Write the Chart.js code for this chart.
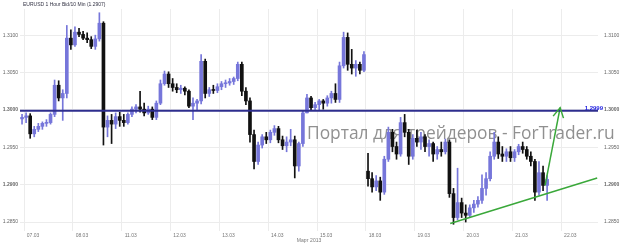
<!DOCTYPE html>
<html>
<head>
<meta charset="utf-8">
<script src="https://cdn.jsdelivr.net/npm/chart.js@4.4.1/dist/chart.umd.min.js"></script>
<style>
  html, body { margin: 0; padding: 0; background: #fff; }
  #wrap { width: 623px; height: 244px; }
</style>
</head>
<body>
<div id="wrap"><canvas id="chart"></canvas></div>
<script>
// EURUSD, 2-hour candles
const days = ['06.03', '07.03', '08.03', '11.03', '12.03', '13.03', '14.03', '15.03', '18.03', '19.03', '20.03', '21.03', '22.03'];
const hours = ['00', '02', '04', '06', '08', '10', '12', '14', '16', '18', '20', '22'];
const firstHour = '22';   // first slot on 06.03
const lastHour = '16';    // last slot on 22.03 (empty space on the right)

const opens = [
  1.2988, 1.2990, 1.2992, 1.2968, 1.2974, 1.2978, 1.2982, 1.2983, 1.2994, 1.3033,
  1.3016, 1.3022, 1.3096, 1.3087, 1.3104, 1.3101, 1.3096, 1.3094, 1.3085, 1.3095,
  1.3116, 1.2977, 1.2986, 1.2981, 1.2991, 1.2986, 1.2983, 1.2994, 1.3001, 1.3004,
  1.3001, 1.2996, 1.3001, 1.2990, 1.3009, 1.3035, 1.3048, 1.3035, 1.3030, 1.3027,
  1.3029, 1.3025, 1.3005, 1.3009, 1.3012, 1.3065, 1.3022, 1.3027, 1.3026, 1.3031,
  1.3035, 1.3036, 1.3038, 1.3042, 1.3061, 1.3025, 1.3012, 1.2967, 1.2931, 1.2953,
  1.2964, 1.2960, 1.2970, 1.2975, 1.2960, 1.2952, 1.2957, 1.2960, 1.2925, 1.2955,
  1.2996, 1.3016, 1.3003, 1.3007, 1.3012, 1.3009, 1.3016, 1.3022, 1.3014, 1.3059,
  1.3097, 1.3061, 1.3056, 1.3061, 1.3053, 1.2918, 1.2908, 1.2897, 1.2905, 1.2890,
  1.2934, 1.2970, 1.2951, 1.2941, 1.2983, 1.2970, 1.2938, 1.2962, 1.2957, 1.2964,
  1.2951, 1.2955, 1.2941, 1.2947, 1.2944, 1.2957, 1.2888, 1.2856, 1.2876, 1.2862,
  1.2859, 1.2869, 1.2874, 1.2879, 1.2895, 1.2908, 1.2938, 1.2957, 1.2941, 1.2938,
  1.2944, 1.2936, 1.2944, 1.2951, 1.2947, 1.2938, 1.2931, 1.2890, 1.2916, 1.2899
];
const highs = [
  1.2994, 1.2996, 1.2995, 1.2978, 1.2982, 1.2984, 1.2987, 1.2996, 1.3040, 1.3039,
  1.3027, 1.3113, 1.3107, 1.3111, 1.3109, 1.3105, 1.3103, 1.3098, 1.3100, 1.3130,
  1.3118, 1.2992, 1.2994, 1.2996, 1.2997, 1.2994, 1.2996, 1.3004, 1.3007, 1.3025,
  1.3009, 1.3005, 1.3004, 1.3012, 1.3040, 1.3052, 1.3051, 1.3042, 1.3035, 1.3033,
  1.3031, 1.3027, 1.3016, 1.3014, 1.3074, 1.3068, 1.3030, 1.3033, 1.3035, 1.3038,
  1.3040, 1.3042, 1.3044, 1.3064, 1.3064, 1.3030, 1.3016, 1.2973, 1.2957, 1.2967,
  1.2970, 1.2973, 1.2979, 1.2978, 1.2965, 1.2964, 1.2974, 1.2965, 1.2957, 1.2999,
  1.3021, 1.3018, 1.3010, 1.3014, 1.3014, 1.3019, 1.3025, 1.3035, 1.3064, 1.3104,
  1.3103, 1.3081, 1.3066, 1.3064, 1.3078, 1.2942, 1.2916, 1.2912, 1.2910, 1.2938,
  1.2977, 1.2974, 1.2957, 1.2990, 1.2994, 1.2974, 1.2967, 1.2973, 1.2970, 1.2967,
  1.2960, 1.2957, 1.2951, 1.2957, 1.2961, 1.2960, 1.2895, 1.2922, 1.2882, 1.2873,
  1.2873, 1.2879, 1.2884, 1.2913, 1.2916, 1.2944, 1.2970, 1.2964, 1.2951, 1.2948,
  1.2951, 1.2947, 1.2954, 1.2957, 1.2951, 1.2944, 1.2934, 1.2931, 1.2925, 1.2912
];
const lows = [
  1.2981, 1.2983, 1.2962, 1.2964, 1.2971, 1.2974, 1.2978, 1.2981, 1.2991, 1.3012,
  1.2986, 1.3016, 1.3081, 1.3085, 1.3098, 1.3094, 1.3090, 1.3082, 1.3081, 1.3092,
  1.2953, 1.2964, 1.2955, 1.2975, 1.2978, 1.2978, 1.2981, 1.2991, 1.2996, 1.2997,
  1.2992, 1.2994, 1.2987, 1.2987, 1.3007, 1.3033, 1.3030, 1.3025, 1.3023, 1.3022,
  1.3020, 1.3003, 1.2987, 1.2999, 1.3008, 1.3016, 1.3018, 1.3022, 1.3023, 1.3027,
  1.3030, 1.3033, 1.3034, 1.3039, 1.3019, 1.3007, 1.2957, 1.2921, 1.2927, 1.2949,
  1.2955, 1.2956, 1.2966, 1.2956, 1.2947, 1.2944, 1.2952, 1.2909, 1.2918, 1.2951,
  1.2996, 1.2999, 1.2999, 1.2999, 1.3001, 1.3005, 1.3009, 1.3010, 1.3010, 1.3056,
  1.3053, 1.3048, 1.3045, 1.3048, 1.3051, 1.2898, 1.2890, 1.2892, 1.2879, 1.2887,
  1.2931, 1.2944, 1.2934, 1.2938, 1.2964, 1.2927, 1.2934, 1.2951, 1.2947, 1.2944,
  1.2938, 1.2931, 1.2934, 1.2938, 1.2941, 1.2883, 1.2847, 1.2853, 1.2856, 1.2850,
  1.2856, 1.2863, 1.2870, 1.2875, 1.2886, 1.2905, 1.2934, 1.2935, 1.2931, 1.2931,
  1.2931, 1.2931, 1.2940, 1.2942, 1.2934, 1.2925, 1.2879, 1.2886, 1.2892, 1.2879
];
const closes = [
  1.2990, 1.2992, 1.2968, 1.2974, 1.2978, 1.2982, 1.2983, 1.2994, 1.3033, 1.3016,
  1.3022, 1.3096, 1.3087, 1.3104, 1.3101, 1.3096, 1.3094, 1.3085, 1.3095, 1.3116,
  1.2977, 1.2986, 1.2981, 1.2991, 1.2986, 1.2983, 1.2994, 1.3001, 1.3004, 1.3001,
  1.2996, 1.3001, 1.2990, 1.3009, 1.3035, 1.3048, 1.3035, 1.3030, 1.3027, 1.3029,
  1.3025, 1.3005, 1.3009, 1.3012, 1.3065, 1.3022, 1.3027, 1.3026, 1.3031, 1.3035,
  1.3036, 1.3038, 1.3042, 1.3061, 1.3025, 1.3012, 1.2967, 1.2931, 1.2953, 1.2964,
  1.2960, 1.2970, 1.2975, 1.2960, 1.2952, 1.2957, 1.2960, 1.2925, 1.2955, 1.2996,
  1.3016, 1.3003, 1.3007, 1.3012, 1.3009, 1.3016, 1.3022, 1.3014, 1.3059, 1.3097,
  1.3061, 1.3056, 1.3061, 1.3053, 1.3074, 1.2908, 1.2897, 1.2905, 1.2890, 1.2934,
  1.2970, 1.2951, 1.2941, 1.2983, 1.2970, 1.2938, 1.2962, 1.2957, 1.2964, 1.2951,
  1.2955, 1.2941, 1.2947, 1.2944, 1.2957, 1.2888, 1.2856, 1.2876, 1.2862, 1.2859,
  1.2869, 1.2874, 1.2879, 1.2895, 1.2908, 1.2938, 1.2957, 1.2941, 1.2938, 1.2944,
  1.2936, 1.2944, 1.2951, 1.2947, 1.2938, 1.2931, 1.2890, 1.2916, 1.2899, 1.2907
];

const yTicks = [1.2850, 1.2900, 1.2950, 1.3000, 1.3050, 1.3100];
const levelPrice = 1.2999;
const levelLabel = '1.2999';
// hand-drawn lines, x in slot units
const trendX = [105.2, 141.3];
const trendY = [1.2848, 1.2909];
const arrowX = [128.5, 132.2];
const arrowY = [1.2899, 1.3003];

const titleText = 'EURUSD 1 Hour Bid/10 Min (1.2907)';
const monthText = 'Март 2013';
const watermark = 'Портал для трейдеров - ForTrader.ru';

const UP = '#7676da';
const DOWN = '#111111';
const GREEN = '#3aa83a';

// time slots
const slots = [];
days.forEach((d, di) => {
  hours.forEach(h => {
    if (di === 0 && h < firstHour) return;
    if (di === days.length - 1 && h > lastHour) return;
    slots.push({ day: d, hour: h });
  });
});
const labels = slots.map(s => s.day + ' ' + s.hour + ':00');
const dayStarts = [];
slots.forEach((s, i) => { if (s.hour === '00') dayStarts.push(i); });

const colors = opens.map((o, i) => closes[i] >= o ? UP : DOWN);

const overlayPlugin = {
  id: 'overlay',
  beforeDatasetsDraw(chart) {
    const { ctx } = chart;
    ctx.save();
    let size = 20;
    ctx.font = size + 'px "Open Sans"';
    const w = ctx.measureText(watermark).width;
    size = size * 308 / w;
    ctx.font = size + 'px "Open Sans"';
    ctx.fillStyle = 'rgba(125,125,125,0.85)';
    ctx.textBaseline = 'alphabetic';
    ctx.fillText(watermark, 307, 139);
    ctx.restore();
  },
  afterDatasetsDraw(chart) {
    const { ctx } = chart;
    const xs = chart.scales.xl, ys = chart.scales.y;
    ctx.save();
    // arrow head
    const x0 = xs.getPixelForValue(arrowX[0]), y0 = ys.getPixelForValue(arrowY[0]);
    const x1 = xs.getPixelForValue(arrowX[1]), y1 = ys.getPixelForValue(arrowY[1]);
    const a = Math.atan2(y1 - y0, x1 - x0);
    ctx.strokeStyle = GREEN;
    ctx.lineWidth = 1.5;
    ctx.beginPath();
    ctx.moveTo(x1 - 11 * Math.cos(a - 0.5), y1 - 11 * Math.sin(a - 0.5));
    ctx.lineTo(x1, y1);
    ctx.lineTo(x1 - 11 * Math.cos(a + 0.5), y1 - 11 * Math.sin(a + 0.5));
    ctx.stroke();
    // level label
    ctx.font = 'bold 6px "Liberation Sans"';
    ctx.fillStyle = '#2020e0';
    ctx.textAlign = 'right';
    ctx.textBaseline = 'bottom';
    ctx.fillText(levelLabel, 603, ys.getPixelForValue(levelPrice) + 1);
    // title
    ctx.font = '5px "Liberation Sans"';
    ctx.fillStyle = '#334';
    ctx.textAlign = 'left';
    ctx.textBaseline = 'middle';
    ctx.fillText(titleText, 23, 5);
    ctx.restore();
  }
};

const tickFont = (c) => {
  const v = c.tick ? c.tick.value : 0;
  const strong = Math.abs(v - 1.29) < 1e-6 || Math.abs(v - 1.30) < 1e-6;
  return { family: '"Liberation Sans", Arial, sans-serif', size: 5, weight: strong ? 'bold' : 'normal' };
};

new Chart(document.getElementById('chart'), {
  type: 'bar',
  data: {
    labels: labels,
    datasets: [
      {
        type: 'line',
        data: [{ x: -0.5, y: levelPrice }, { x: labels.length - 0.5, y: levelPrice }],
        xAxisID: 'xl', yAxisID: 'y',
        borderColor: '#2e2e8e', borderWidth: 2, pointRadius: 0, order: 0
      },
      {
        type: 'line',
        data: trendX.map((x, i) => ({ x: x, y: trendY[i] })),
        xAxisID: 'xl', yAxisID: 'y',
        borderColor: GREEN, borderWidth: 1.5, pointRadius: 0, order: 0
      },
      {
        type: 'line',
        data: arrowX.map((x, i) => ({ x: x, y: arrowY[i] })),
        xAxisID: 'xl', yAxisID: 'y',
        borderColor: GREEN, borderWidth: 1.5, pointRadius: 0, order: 0
      },
      {
        data: opens.map((o, i) => [o, closes[i]]),
        xAxisID: 'x', yAxisID: 'y',
        backgroundColor: colors, borderWidth: 0,
        barThickness: 3, minBarLength: 1, grouped: false, order: 1
      },
      {
        data: lows.map((l, i) => [l, highs[i]]),
        xAxisID: 'x', yAxisID: 'y',
        backgroundColor: colors, borderWidth: 0,
        barThickness: 1, grouped: false, order: 2
      }
    ]
  },
  options: {
    responsive: true,
    maintainAspectRatio: false,
    animation: false,
    layout: { padding: { top: 3, left: 0, right: 0, bottom: 0 } },
    plugins: { legend: { display: false }, tooltip: { enabled: false } },
    scales: {
      x: { type: 'category', display: false, offset: true },
      xl: {
        type: 'linear', position: 'bottom', offset: false,
        min: -0.5, max: labels.length - 0.5,
        afterBuildTicks: (scale) => { scale.ticks = dayStarts.map(i => ({ value: i - 0.5 })); },
        afterFit: (scale) => { scale.height = 13; },
        grid: { color: '#ececec', drawTicks: false, offset: false },
        border: { display: false },
        ticks: {
          autoSkip: false, maxRotation: 0, padding: 2, labelOffset: 9,
          color: '#777', font: { family: '"Liberation Sans", Arial, sans-serif', size: 5 },
          callback: (v) => slots[Math.round(v + 0.5)].day
        },
        title: {
          display: true, text: monthText, color: '#777', padding: 0,
          font: { family: '"Liberation Sans", Arial, sans-serif', size: 5 }
        }
      },
      y: {
        position: 'left', min: 1.2838, max: 1.3135,
        afterBuildTicks: (scale) => { scale.ticks = yTicks.map(v => ({ value: v })); },
        afterFit: (scale) => { scale.width = 20; },
        grid: { color: '#ececec', drawTicks: false },
        border: { display: false },
        ticks: { padding: 2, color: '#666', font: tickFont, callback: (v) => v.toFixed(4) }
      },
      y2: {
        position: 'right', min: 1.2838, max: 1.3135,
        afterBuildTicks: (scale) => { scale.ticks = yTicks.map(v => ({ value: v })); },
        afterFit: (scale) => { scale.width = 25; },
        grid: { display: false, drawTicks: false },
        border: { display: false },
        ticks: { padding: 6, color: '#666', font: tickFont, callback: (v) => v.toFixed(4) }
      }
    }
  },
  plugins: [overlayPlugin]
});
</script>
</body>
</html>
